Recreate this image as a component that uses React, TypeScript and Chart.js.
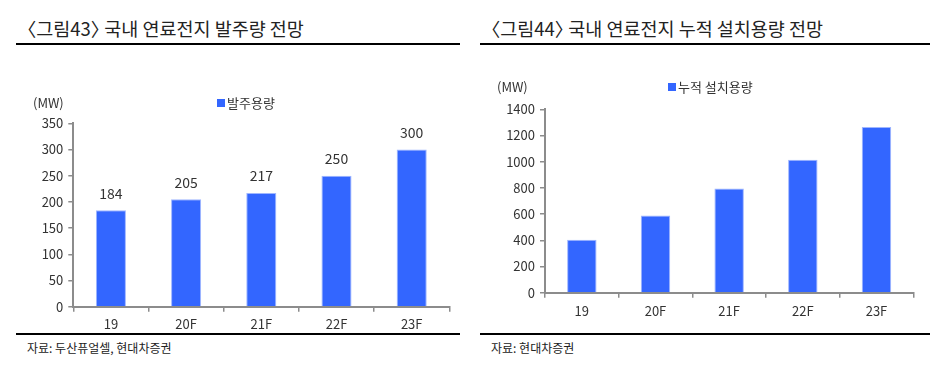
import React, { useEffect, useRef } from "react";
import { Chart, registerables } from "chart.js";

Chart.register(...registerables);

const categories = ["19", "20F", "21F", "22F", "23F"];
const orderValues = [184, 205, 217, 250, 300];
const cumulativeValues = [405, 590, 795, 1015, 1265];
const leftTitle = "〈그림43〉 국내 연료전지 발주량 전망";
const rightTitle = "〈그림44〉 국내 연료전지 누적 설치용량 전망";
const leftSeries = "발주용량";
const rightSeries = "누적 설치용량";
const unitLabel = "(MW)";
const leftSource = "자료: 두산퓨얼셀, 현대차증권";
const rightSource = "자료: 현대차증권";

const BAR = "#3366FF";
const AXIS = "#8c8c8c";
const TXT = "#333333";
const FONT = "'Noto Sans CJK KR', 'Noto Sans', sans-serif";

const valueLabels = {
  id: "valueLabels",
  afterDatasetsDraw(chart: any, _args: any, opts: any) {
    if (!opts || !opts.show) return;
    const ctx = chart.ctx;
    const meta = chart.getDatasetMeta(0);
    ctx.save();
    ctx.font = `14px ${FONT}`;
    ctx.fillStyle = TXT;
    ctx.textAlign = "center";
    ctx.textBaseline = "middle";
    meta.data.forEach((el: any, i: number) => {
      const v = chart.data.datasets[0].data[i];
      ctx.fillText(String(v), el.x, el.y - 17);
    });
    ctx.restore();
  },
};

function BarChart(props: {
  values: number[];
  max: number;
  step: number;
  yWidth: number;
  xHeight: number;
  padTop: number;
  padRight: number;
  xPad: number;
  labels: boolean;
  width: number;
  height: number;
}) {
  const ref = useRef<HTMLCanvasElement>(null);
  useEffect(() => {
    const chart = new Chart(ref.current as HTMLCanvasElement, {
      type: "bar",
      data: {
        labels: categories,
        datasets: [
          {
            data: props.values,
            backgroundColor: BAR,
            borderColor: "#9fb6ff",
            borderWidth: 1,
            categoryPercentage: 1,
            barPercentage: 0.4,
          },
        ],
      },
      options: {
        animation: false,
        responsive: false,
        maintainAspectRatio: false,
        layout: { padding: { top: props.padTop, right: props.padRight, left: 0, bottom: 0 } },
        plugins: {
          legend: { display: false },
          tooltip: { enabled: false },
          valueLabels: { show: props.labels },
        } as any,
        scales: {
          x: {
            grid: { display: true, drawOnChartArea: false, drawTicks: true, tickLength: 5, color: AXIS, lineWidth: 1.5, offset: true },
            border: { display: true, color: AXIS, width: 2 },
            ticks: { color: TXT, font: { size: 13, family: FONT }, padding: props.xPad },
            afterFit: (s: any) => {
              s.height = props.xHeight;
            },
          },
          y: {
            min: 0,
            max: props.max,
            grid: { display: true, drawOnChartArea: false, drawTicks: true, tickLength: 5, color: AXIS, lineWidth: 1.5 },
            border: { display: true, color: AXIS, width: 2 },
            ticks: {
              stepSize: props.step,
              color: TXT,
              font: { size: 13, family: FONT },
              padding: 5,
              callback: (v: any) => String(v),
            },
            afterFit: (s: any) => {
              s.width = props.yWidth;
            },
          },
        },
      },
      plugins: [valueLabels],
    });
    return () => chart.destroy();
  }, []);
  return <canvas ref={ref} width={props.width} height={props.height} style={{ width: props.width, height: props.height, display: "block" }} />;
}

const abs = (l: number, t: number, extra: React.CSSProperties = {}): React.CSSProperties => ({
  position: "absolute",
  left: l,
  top: t,
  ...extra,
});

export default function App() {
  useEffect(() => {
    document.body.style.margin = "0";
  }, []);
  const titleStyle: React.CSSProperties = {
    fontFamily: FONT,
    fontSize: 18.5,
    color: "#222",
    whiteSpace: "nowrap",
    lineHeight: "20px",
    fontFeatureSettings: '"halt"',
  };
  const smallStyle: React.CSSProperties = { fontFamily: FONT, fontSize: 13, color: TXT, whiteSpace: "nowrap", lineHeight: "16px" };
  const srcStyle: React.CSSProperties = { fontFamily: FONT, fontSize: 12, color: "#222", whiteSpace: "nowrap", lineHeight: "14px" };
  const sq: React.CSSProperties = { display: "inline-block", width: 8, height: 8, background: BAR, marginRight: 2, verticalAlign: "1px" };
  return (
    <div style={{ position: "relative", width: 930, height: 366, background: "#fff", overflow: "hidden" }}>
      <div style={abs(27, 18, titleStyle)}>{leftTitle}</div>
      <div style={abs(491, 18, titleStyle)}>{rightTitle}</div>
      <div style={abs(16, 43, { width: 444, height: 2, background: "#000" })} />
      <div style={abs(480, 43, { width: 450, height: 2, background: "#000" })} />

      <div style={abs(0, 100)}>
        <BarChart values={orderValues} max={350} step={50} yWidth={73.3} xHeight={23.3} padTop={23.3} padRight={15.7} xPad={5} labels={true} width={465} height={230} />
      </div>
      <div style={abs(465, 90)}>
        <BarChart values={cumulativeValues} max={1400} step={200} yWidth={80} xHeight={37.3} padTop={19.3} padRight={16.7} xPad={6} labels={false} width={465} height={240} />
      </div>

      <div style={abs(33, 95, smallStyle)}>{unitLabel}</div>
      <div style={abs(217, 95, smallStyle)}>
        <span style={sq} />
        {leftSeries}
      </div>
      <div style={abs(497, 79, smallStyle)}>{unitLabel}</div>
      <div style={abs(668, 79, smallStyle)}>
        <span style={sq} />
        {rightSeries}
      </div>

      <div style={abs(16, 333, { width: 444, height: 2, background: "#000" })} />
      <div style={abs(480, 333, { width: 450, height: 2, background: "#000" })} />
      <div style={abs(27, 341, srcStyle)}>{leftSource}</div>
      <div style={abs(491, 341, srcStyle)}>{rightSource}</div>
    </div>
  );
}
